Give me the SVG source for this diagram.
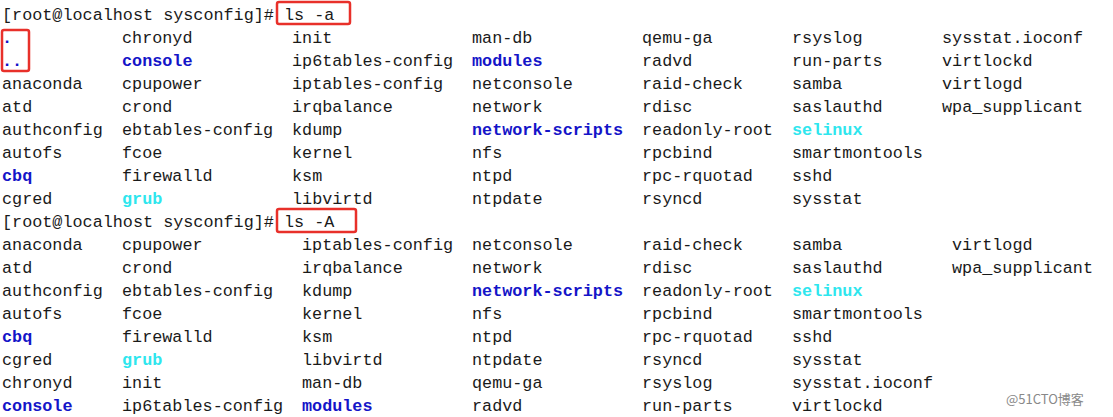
<svg xmlns="http://www.w3.org/2000/svg" width="1113" height="417" viewBox="0 0 1113 417">
<style>
text{font-family:"Liberation Mono","DejaVu Sans Mono",monospace;font-size:16.8px;fill:#1a1a1a}
.b{fill:#1414c8;font-weight:bold}
.c{fill:#2ee6ee;font-weight:bold}
.box{fill:none;stroke:#e8302a;stroke-width:2.5}
.wm{font-family:"Noto Sans CJK SC","Liberation Sans",sans-serif;font-size:13px;fill:#888}
</style>
<rect width="1113" height="417" fill="#fff"/>
<g id="block1">
<text x="2" y="20">[root@localhost sysconfig]# ls -a</text>
<text x="2" y="43" class="b">.</text><text x="122" y="43">chronyd</text><text x="292" y="43">init</text><text x="472" y="43">man-db</text><text x="642" y="43">qemu-ga</text><text x="792" y="43">rsyslog</text><text x="942" y="43">sysstat.ioconf</text>
<text x="2" y="66" class="b">..</text><text x="122" y="66" class="b">console</text><text x="292" y="66">ip6tables-config</text><text x="472" y="66" class="b">modules</text><text x="642" y="66">radvd</text><text x="792" y="66">run-parts</text><text x="942" y="66">virtlockd</text>
<text x="2" y="89">anaconda</text><text x="122" y="89">cpupower</text><text x="292" y="89">iptables-config</text><text x="472" y="89">netconsole</text><text x="642" y="89">raid-check</text><text x="792" y="89">samba</text><text x="942" y="89">virtlogd</text>
<text x="2" y="112">atd</text><text x="122" y="112">crond</text><text x="292" y="112">irqbalance</text><text x="472" y="112">network</text><text x="642" y="112">rdisc</text><text x="792" y="112">saslauthd</text><text x="942" y="112">wpa_supplicant</text>
<text x="2" y="135">authconfig</text><text x="122" y="135">ebtables-config</text><text x="292" y="135">kdump</text><text x="472" y="135" class="b">network-scripts</text><text x="642" y="135">readonly-root</text><text x="792" y="135" class="c">selinux</text>
<text x="2" y="158">autofs</text><text x="122" y="158">fcoe</text><text x="292" y="158">kernel</text><text x="472" y="158">nfs</text><text x="642" y="158">rpcbind</text><text x="792" y="158">smartmontools</text>
<text x="2" y="181" class="b">cbq</text><text x="122" y="181">firewalld</text><text x="292" y="181">ksm</text><text x="472" y="181">ntpd</text><text x="642" y="181">rpc-rquotad</text><text x="792" y="181">sshd</text>
<text x="2" y="204">cgred</text><text x="122" y="204" class="c">grub</text><text x="292" y="204">libvirtd</text><text x="472" y="204">ntpdate</text><text x="642" y="204">rsyncd</text><text x="792" y="204">sysstat</text>
</g>
<g id="block2">
<text x="2" y="227">[root@localhost sysconfig]# ls -A</text>
<text x="2" y="250">anaconda</text><text x="122" y="250">cpupower</text><text x="302" y="250">iptables-config</text><text x="472" y="250">netconsole</text><text x="642" y="250">raid-check</text><text x="792" y="250">samba</text><text x="952" y="250">virtlogd</text>
<text x="2" y="273">atd</text><text x="122" y="273">crond</text><text x="302" y="273">irqbalance</text><text x="472" y="273">network</text><text x="642" y="273">rdisc</text><text x="792" y="273">saslauthd</text><text x="952" y="273">wpa_supplicant</text>
<text x="2" y="296">authconfig</text><text x="122" y="296">ebtables-config</text><text x="302" y="296">kdump</text><text x="472" y="296" class="b">network-scripts</text><text x="642" y="296">readonly-root</text><text x="792" y="296" class="c">selinux</text>
<text x="2" y="319">autofs</text><text x="122" y="319">fcoe</text><text x="302" y="319">kernel</text><text x="472" y="319">nfs</text><text x="642" y="319">rpcbind</text><text x="792" y="319">smartmontools</text>
<text x="2" y="342" class="b">cbq</text><text x="122" y="342">firewalld</text><text x="302" y="342">ksm</text><text x="472" y="342">ntpd</text><text x="642" y="342">rpc-rquotad</text><text x="792" y="342">sshd</text>
<text x="2" y="365">cgred</text><text x="122" y="365" class="c">grub</text><text x="302" y="365">libvirtd</text><text x="472" y="365">ntpdate</text><text x="642" y="365">rsyncd</text><text x="792" y="365">sysstat</text>
<text x="2" y="388">chronyd</text><text x="122" y="388">init</text><text x="302" y="388">man-db</text><text x="472" y="388">qemu-ga</text><text x="642" y="388">rsyslog</text><text x="792" y="388">sysstat.ioconf</text>
<text x="2" y="411" class="b">console</text><text x="122" y="411">ip6tables-config</text><text x="302" y="411" class="b">modules</text><text x="472" y="411">radvd</text><text x="642" y="411">run-parts</text><text x="792" y="411">virtlockd</text>
</g>
<g id="highlights">
<rect class="box" x="277" y="2" width="73" height="22" rx="2"/>
<rect class="box" x="2" y="30" width="27" height="41" rx="2"/>
<rect class="box" x="277" y="209" width="79" height="23" rx="2"/>
</g>
<text class="wm" x="1006" y="404">@51CTO博客</text>
</svg>
